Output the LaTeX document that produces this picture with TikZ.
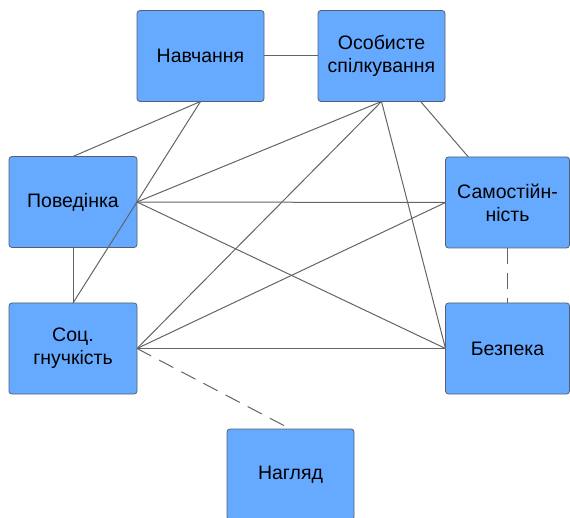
\documentclass[tikz,border=0pt]{standalone}
\usepackage{fontspec}
\setmainfont{Liberation Sans}
\usepackage{tikz}
\usetikzlibrary{positioning}
\usetikzlibrary{calc}
\definecolor{boxblue}{RGB}{102,170,255}
\definecolor{boxrim}{RGB}{85,95,110}
\definecolor{linkgray}{RGB}{100,100,100}
\newcommand{\KBwidth}{127pt}
\newcommand{\KBheight}{91pt}
\tikzset{KB_box/.style={
		rectangle,
		rounded corners=3pt,
		draw=boxrim,
		line width=0.8pt,
		fill=boxblue,
		inner sep = 0pt,
		outer sep = 0pt,
		minimum width=\KBwidth, 
		minimum height=\KBheight,
		align=center,
		font=\fontsize{19.5}{23}\selectfont,
	}
}
\tikzset{link/.style={
		draw=linkgray,
		line width=1pt,
	}
}
\tikzset{link_dash/.style={
		link,
		dash pattern=on 16pt off 9pt,
	}
}

\begin{document}
\begin{tikzpicture}[x=1pt, y=-1pt]

\clip (0,0) rectangle (570,518);

% nodes
\node[KB_box] (navch) at (200.5,56) {Навчання};
\node[KB_box] (osob) at (381.5,56) {Особисте\\спілкування};
\node[KB_box, minimum width=128pt] (poved) at (73,202) {Поведінка};
\node[KB_box, minimum width=128pt] (soc) at (73,348.5) {Соц.\\гнучкість};
\node[KB_box, minimum width=124pt] (samost) at (507.5,202.5) {Самостійн-\\ність};
\node[KB_box, minimum width=124pt] (bezp) at (507.5,348.5) {Безпека};
\node[KB_box] (nahl) at (290.5,474.5) {Нагляд};

% links
\draw[link] (navch.east) -- (osob.west);
\draw[link] (navch.south) -- (poved.north);
\draw[link] (navch.south) -- (soc.north);
\draw[link] (poved.south) -- (soc.north);
\draw[link] (osob) -- (samost);
\draw[link] (osob.south) -- (poved.east);
\draw[link] (osob.south) -- (soc.east);
\draw[link] (osob.south) -- (bezp.west);
\draw[link] (poved.east) -- (samost.west);
\draw[link] (poved.east) -- (bezp.west);
\draw[link] (soc.east) -- (samost.west);
\draw[link] (soc.east) -- (bezp.west);

% dashed
\draw[link_dash] (samost.south) -- (bezp.north);
\draw[link_dash] (soc.east) -- (nahl.north);

\end{tikzpicture}
\end{document}
